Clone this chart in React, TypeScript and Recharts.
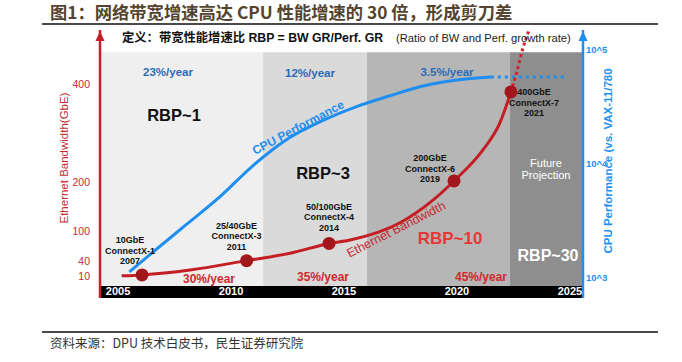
import React from 'react';
import {
  ComposedChart,
  Line,
  Scatter,
  XAxis,
  YAxis,
  ReferenceArea,
  ReferenceDot,
} from 'recharts';

// era bands (years), axis ticks
const eraEdges = [2004.2, 2011.42, 2016.02, 2022.35, 2025.58];
const eraFills = ['#efefef', '#dadada', '#b6b6b6', '#8e8e8e'];
const yearTicks = [2005, 2010, 2015, 2020, 2025];
const bandwidthTicks = [10, 40, 100, 200, 400];
const cpuTicks = [1000, 10000, 100000];

// Ethernet bandwidth curve (GbE)
const bandwidthYears = [2005.16, 2006.06, 2008.19, 2010.69, 2012.61, 2014.34, 2015.27, 2017.48, 2018.94, 2019.87, 2021.15, 2021.9, 2022.39];
const bandwidthValues = [10, 12, 22, 41, 56, 76, 83, 118, 164, 203, 266, 321, 384];
const bandwidthProjYears = [2022.39, 2022.65, 2022.92, 2023.2];
const bandwidthProjValues = [384, 425, 473, 510];

// CPU performance (vs. VAX-11/780)
const cpuYears = [2005.5, 2006.5, 2008, 2009.5, 2011, 2012.5, 2014, 2015.5, 2017, 2018.5, 2020, 2021.5];
const cpuValues = [1130, 1660, 2920, 5140, 9800, 16600, 23800, 31600, 39500, 48300, 54600, 57900];
const cpuProjYears = [2021.5, 2024.9];
const cpuProjValues = [57900, 57900];

// NIC generations
const portYears = [2006.06, 2010.69, 2014.34, 2019.87, 2022.39];
const portSpeeds = [12, 41, 76, 203, 384];
const portNames = ['10GbE', '25/40GbE', '50/100GbE', '200GbE', '400GbE'];
const portCards = ['ConnectX-1', 'ConnectX-3', 'ConnectX-4', 'ConnectX-6', 'ConnectX-7'];
const portLaunch = ['2007', '2011', '2014', '2019', '2021'];

const bandwidthData = bandwidthYears.map((year, i) => ({ year, gbe: bandwidthValues[i] }));
const bandwidthProj = bandwidthProjYears.map((year, i) => ({ year, gbe: bandwidthProjValues[i] }));
const cpuData = cpuYears.map((year, i) => ({ year, perf: cpuValues[i] }));
const cpuProj = cpuProjYears.map((year, i) => ({ year, perf: cpuProjValues[i] }));
const portData = portYears.map((year, i) => ({
  year,
  gbe: portSpeeds[i],
  name: portNames[i],
  card: portCards[i],
  launch: portLaunch[i],
}));

// label placement next to each dot: [dx, dy of first line]
const portLabelOffsets = [[-12, -35], [-10, -35], [0, -37], [-24, -23], [23, 0]];

const X_DOMAIN = [eraEdges[0], eraEdges[4]];
const BW_DOMAIN = [-35, 510];
const CPU_DOMAIN = [668, 149800];
const BAND_TOP = 465;
const BAR_TOP = -10.6;

const SANS = "'Liberation Sans', Arial, 'Noto Sans CJK SC', sans-serif";
const CJK = "'Noto Sans CJK SC', sans-serif";
const RED = '#c62a30';
const BLUE = '#1e8ff0';

const PortDot = (p: any) => {
  const i = portData.findIndex((d) => d.year === p.payload.year);
  const [dx, dy] = portLabelOffsets[i];
  const lines = [portData[i].name, portData[i].card, portData[i].launch];
  return (
    <g>
      <circle cx={p.cx} cy={p.cy} r={6.5} fill="#a3161b" />
      {lines.map((t, k) => (
        <text
          key={k}
          x={p.cx + dx}
          y={p.cy + dy + 3.2 + k * 10.5}
          textAnchor="middle"
          fontSize={9}
          fontWeight="bold"
          fontFamily={SANS}
          fill="#111"
        >
          {t}
        </text>
      ))}
    </g>
  );
};

const arrowUp = (color: string) => (p: any) => (
  <path d={`M${p.cx},${p.cy + 1} L${p.cx - 4.5},${p.cy + 11} L${p.cx + 4.5},${p.cy + 11} Z`} fill={color} />
);

const YearTick = (p: any) => (
  <text x={p.x} y={p.y - 3} textAnchor="middle" fill="#fff" fontSize={11} fontWeight="bold" fontFamily={SANS}>
    {p.payload.value}
  </text>
);

export default function App() {
  return (
    <div style={{ position: 'absolute', left: 0, top: 0, width: 682, height: 362, background: '#fff' }}>
      <div style={{ position: 'absolute', left: 0, top: 0 }}>
        <ComposedChart width={682} height={362} margin={{ top: 30, right: 0, bottom: 44, left: 0 }}>
          {eraFills.map((f, i) => (
            <ReferenceArea
              key={i}
              yAxisId="left"
              x1={eraEdges[i]}
              x2={eraEdges[i + 1]}
              y1={BAR_TOP}
              y2={BAND_TOP}
              fill={f}
              fillOpacity={1}
              stroke="none"
            />
          ))}
          <ReferenceArea
            yAxisId="left"
            x1={X_DOMAIN[0]}
            x2={X_DOMAIN[1]}
            y1={BW_DOMAIN[0]}
            y2={BAR_TOP}
            fill="#000"
            fillOpacity={1}
            stroke="none"
          />
          <XAxis
            dataKey="year"
            type="number"
            domain={X_DOMAIN}
            ticks={yearTicks}
            interval={0}
            allowDataOverflow
            axisLine={false}
            tickLine={false}
            tickSize={0}
            tickMargin={0}
            height={20}
            tick={<YearTick />}
          />
          <YAxis
            yAxisId="left"
            type="number"
            domain={BW_DOMAIN}
            ticks={bandwidthTicks}
            interval={0}
            allowDataOverflow
            width={100}
            axisLine={{ stroke: '#c8202a', strokeWidth: 2.5 }}
            tickLine={false}
            tickMargin={4}
            tick={{ fill: RED, fontSize: 10.5, fontFamily: SANS }}
          />
          <YAxis
            yAxisId="right"
            orientation="right"
            scale="log"
            type="number"
            domain={CPU_DOMAIN}
            ticks={cpuTicks}
            interval={0}
            allowDataOverflow
            width={99}
            axisLine={{ stroke: BLUE, strokeWidth: 2.5 }}
            tickLine={false}
            tickSize={0}
            tickMargin={3}
            tickFormatter={(v: number) => '10^' + Math.round(Math.log10(v))}
            tick={{ fill: BLUE, fontSize: 9.5, fontWeight: 'bold', fontFamily: SANS }}
          />
          <Line
            yAxisId="right"
            data={cpuProj}
            dataKey="perf"
            type="monotone"
            stroke={BLUE}
            strokeWidth={3}
            strokeDasharray="3 4"
            dot={false}
            activeDot={false}
            isAnimationActive={false}
          />
          <Line
            yAxisId="right"
            data={cpuData}
            dataKey="perf"
            type="monotone"
            stroke={BLUE}
            strokeWidth={3}
            dot={false}
            activeDot={false}
            isAnimationActive={false}
          />
          <Line
            yAxisId="left"
            data={bandwidthProj}
            dataKey="gbe"
            type="monotone"
            stroke="#d0232a"
            strokeWidth={3}
            strokeDasharray="3 3"
            dot={false}
            activeDot={false}
            isAnimationActive={false}
          />
          <Line
            yAxisId="left"
            data={bandwidthData}
            dataKey="gbe"
            type="monotone"
            stroke="#c41e24"
            strokeWidth={3}
            dot={false}
            activeDot={false}
            isAnimationActive={false}
          />
          <Scatter
            yAxisId="left"
            data={portData}
            dataKey="gbe"
            shape={PortDot}
            isAnimationActive={false}
          />
          <ReferenceDot yAxisId="left" x={X_DOMAIN[0]} y={BW_DOMAIN[1]} r={5} ifOverflow="visible" shape={arrowUp('#c8202a')} />
          <ReferenceDot yAxisId="left" x={X_DOMAIN[1]} y={BW_DOMAIN[1]} r={5} ifOverflow="visible" shape={arrowUp(BLUE)} />
        </ComposedChart>
      </div>
      <svg width={682} height={362} style={{ position: 'absolute', left: 0, top: 0, pointerEvents: 'none' }}>
        <text x={50} y={19} fontSize={17.3} fontWeight="bold" fontFamily={CJK} fill="#54442f">
          图1：网络带宽增速高达 CPU 性能增速的 30 倍，形成剪刀差
        </text>
        <line x1={42} x2={658} y1={24} y2={24} stroke="#4a4a4a" strokeWidth={2} />

        <text x={122} y={41.5} fontSize={12.3} fontWeight="bold" fontFamily={SANS} fill="#111">
          定义：带宽性能增速比  RBP = BW GR/Perf. GR
        </text>
        <text x={396} y={41.5} fontSize={11.2} fontFamily={SANS} fill="#222">
          (Ratio of BW and Perf. growth rate)
        </text>

        <g fontFamily={SANS} fontWeight="bold" textAnchor="middle">
          <text x={168} y={76} fontSize={11.5} fill="#2d6bb4">23%/year</text>
          <text x={310} y={77} fontSize={11.5} fill="#2d6bb4">12%/year</text>
          <text x={447} y={76} fontSize={11.5} fill="#2d6bb4">3.5%/year</text>
          <text x={209} y={283} fontSize={12} fill="#d0282e">30%/year</text>
          <text x={323} y={281} fontSize={12} fill="#d0282e">35%/year</text>
          <text x={481} y={281} fontSize={12} fill="#d0282e">45%/year</text>
          <text x={174} y={121} fontSize={16.5} fill="#111">RBP~1</text>
          <text x={323} y={179} fontSize={16.5} fill="#111">RBP~3</text>
          <text x={450} y={244} fontSize={17} fill="#e53935">RBP~10</text>
          <text x={548} y={261} fontSize={16} fill="#fff">RBP~30</text>
          <text x={300} y={131} fontSize={12} fill={BLUE} transform="rotate(-28 300 131)">CPU Performance</text>
        </g>
        <g fontFamily={SANS} textAnchor="middle" fill="#fff" fontSize={11}>
          <text x={546} y={167}>Future</text>
          <text x={546} y={179}>Projection</text>
        </g>
        <text x={398} y={233} fontSize={12.5} fontFamily={SANS} fill={RED} textAnchor="middle" transform="rotate(-27 398 233)">
          Ethernet Bandwidth
        </text>

        <text x={68} y={158} fontSize={11.5} fontFamily={SANS} fill={RED} textAnchor="middle" transform="rotate(-90 68 158)">
          Ethernet Bandwidth(GbE)
        </text>
        <text x={612} y={161} fontSize={11.5} fontWeight="bold" fontFamily={SANS} fill={BLUE} textAnchor="middle" transform="rotate(-90 612 161)">
          CPU Performance (vs. VAX-11/780
        </text>

        <line x1={42} x2={658} y1={332} y2={332} stroke="#4a4a4a" strokeWidth={2} />
        <text x={50} y={348} fontSize={12.5} fontFamily={CJK} fill="#333">
          资料来源：DPU 技术白皮书，民生证券研究院
        </text>
      </svg>
    </div>
  );
}
